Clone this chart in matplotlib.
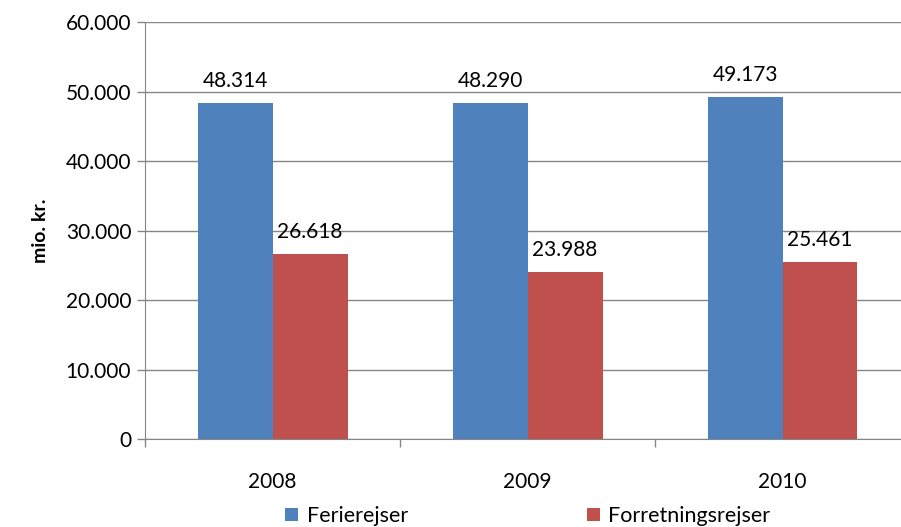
import matplotlib.pyplot as plt
from matplotlib.ticker import FuncFormatter, FixedLocator

years = ['2008', '2009', '2010']
ferie = [48314, 48290, 49173]
forretning = [26618, 23988, 25461]
yticks = [0, 10000, 20000, 30000, 40000, 50000, 60000]

plt.rcParams['font.family'] = ['Lato', 'DejaVu Sans']


def dot_fmt(v, pos=None):
    return '{:,.0f}'.format(v).replace(',', '.')


fig = plt.figure(figsize=(9.01, 5.27), dpi=100)
ax = fig.add_axes([0.161, 0.167, 0.849, 0.791])

x = range(len(years))
w = 0.294
b1 = ax.bar([i - w / 2 for i in x], ferie, w, color='#4F81BD', label='Ferierejser')
b2 = ax.bar([i + w / 2 for i in x], forretning, w, color='#C0504D', label='Forretningsrejser')

ax.bar_label(b1, labels=[dot_fmt(v) for v in ferie], padding=9, fontsize=15)
ax.bar_label(b2, labels=[dot_fmt(v) for v in forretning], padding=9, fontsize=15)

ax.set_xlim(-0.5, len(years) - 0.5)
ax.set_ylim(0, 60000)
ax.set_yticks(yticks)
ax.yaxis.set_major_formatter(FuncFormatter(dot_fmt))
ax.yaxis.grid(True, color='#868686', linewidth=1)
ax.set_axisbelow(True)

ax.xaxis.set_major_locator(FixedLocator([-0.5, 0.5, 1.5, 2.5]))
ax.xaxis.set_minor_locator(FixedLocator(list(x)))
ax.set_xticklabels([], minor=False)
ax.set_xticklabels(years, minor=True)
ax.tick_params(axis='x', which='major', length=6, color='#868686', width=1)
ax.tick_params(axis='x', which='minor', length=0, pad=24, labelsize=15)
ax.tick_params(axis='y', length=6, color='#868686', width=1, labelsize=15, pad=4)

for s in ['top', 'right']:
    ax.spines[s].set_visible(False)
for s in ['left', 'bottom']:
    ax.spines[s].set_color('#868686')

ax.set_ylabel('mio. kr.', fontsize=14, fontweight='bold', labelpad=12)

fig.legend(loc='lower center', bbox_to_anchor=(0.586, -0.035), ncol=2, frameon=False,
           fontsize=15.5, handlelength=0.6, handleheight=0.6, handletextpad=0.4,
           columnspacing=8.3)

fig.savefig('out.png', dpi=100)
